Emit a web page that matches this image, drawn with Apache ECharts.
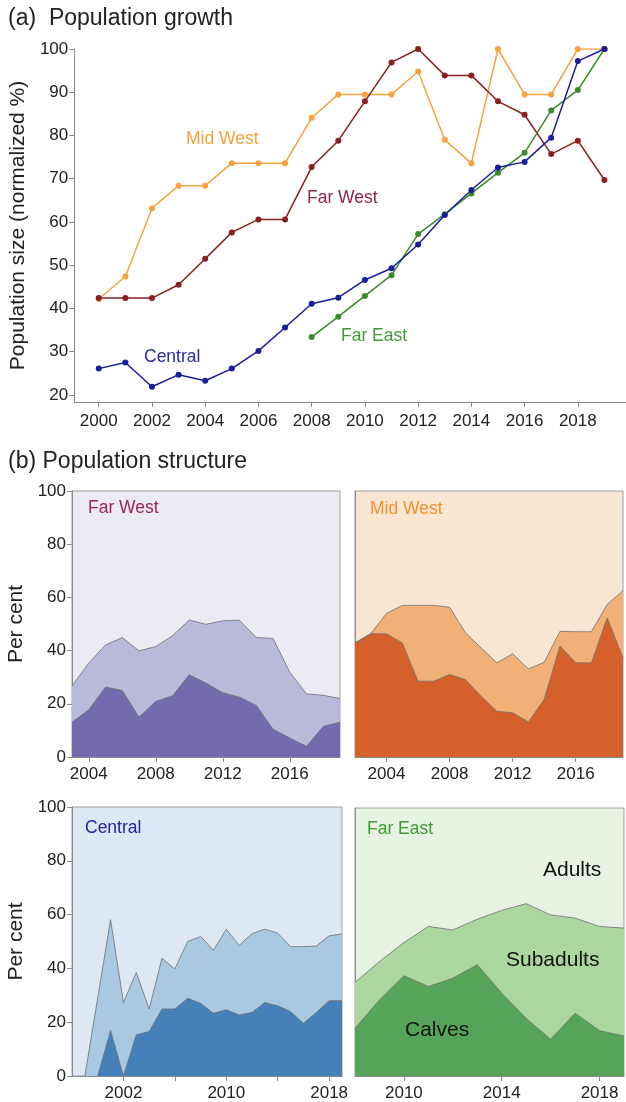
<!DOCTYPE html>
<html>
<head>
<meta charset="utf-8">
<script src="https://cdn.jsdelivr.net/npm/echarts@6/dist/echarts.min.js"></script>
<style>
html,body{margin:0;padding:0;background:#fff;}
#c{width:626px;height:1102px;}
</style>
</head>
<body>
<div id="c"></div>
<script>
// ---- (a) Population growth ----
const years = [2000,2001,2002,2003,2004,2005,2006,2007,2008,2009,2010,2011,2012,2013,2014,2015,2016,2017,2018,2019];
const midWest = [42.2,47.4,63.2,68.4,68.4,73.6,73.6,73.6,84.1,89.5,89.5,89.5,94.8,79.0,73.6,100,89.5,89.5,100,100];
const farWest = [42.4,42.4,42.4,45.5,51.5,57.6,60.6,60.6,72.7,78.8,87.9,96.9,100,93.9,93.9,87.9,84.8,75.7,78.8,69.7];
const central = [26.1,27.5,21.9,24.7,23.3,26.1,30.2,35.6,41.1,42.5,46.6,49.3,54.8,61.6,67.4,72.6,73.9,79.5,97.2,100];
const farEast = [null,null,null,null,null,null,null,null,33.4,38.1,42.9,47.7,57.2,61.8,66.6,71.4,76.0,85.8,90.5,100];
const topXTicks = [2000,2002,2004,2006,2008,2010,2012,2014,2016,2018];
const topYTicks = [20,30,40,50,60,70,80,90,100];

// ---- (b) Population structure (upper boundary = calves + subadults, lower = calves) ----
const fwYears = [2003,2004,2005,2006,2007,2008,2009,2010,2011,2012,2013,2014,2015,2016,2017,2018,2019];
const fwTotal = [26.7,35.3,42.1,44.9,39.9,41.5,45.6,51.5,49.9,51.2,51.4,44.9,44.6,31.9,23.7,23.2,22.0];
const fwCalves = [13.1,17.7,26.3,25.0,15.0,20.9,23.0,30.9,27.8,24.2,22.5,19.4,10.5,7.1,4.0,11.5,13.1];

const mwYears = [2002,2003,2004,2005,2006,2007,2008,2009,2010,2011,2012,2013,2014,2015,2016,2017,2018,2019];
const mwTotal = [42.9,46.3,54.0,57.0,57.0,57.0,56.3,46.7,41.0,35.4,38.8,33.1,35.6,47.2,47.1,47.1,57.4,62.5];
const mwCalves = [42.9,46.3,46.3,42.9,28.5,28.5,31.0,29.1,22.8,17.2,16.6,13.2,21.6,41.7,35.4,35.4,52.3,37.3];

const ctYears = [1999,2000,2001,2002,2003,2004,2005,2006,2007,2008,2009,2010,2011,2012,2013,2014,2015,2016,2017,2018,2019];
const ctTotal = [0,29,58.1,27.3,38.5,24.9,43.8,39.8,50,51.9,46.7,54.6,48.5,52.9,54.6,53.1,48.1,48.1,48.3,52.1,52.8];
const ctCalves = [null,0,16.9,0,15.3,16.5,24.9,24.9,28.9,27,23.3,24.6,22.7,23.6,27.3,26.1,23.9,19.6,23.6,28.0,28.0];

const feYears = [2008,2009,2010,2011,2012,2013,2014,2015,2016,2017,2018,2019];
const feTotal = [34.9,42.7,49.8,55.8,54.5,58.5,61.8,64.3,60.1,58.9,55.8,55.2];
const feCalves = [17.8,28.4,37.4,33.4,36.5,41.5,30.9,21.5,13.7,23.4,16.9,14.9];

const fwXTicks = [2004,2008,2012,2016];
const mwXTicks = [2004,2008,2012,2016];
const ctXLabels = [2002,2010,2018];
const ctXTicks = [2002,2006,2010,2014,2018];
const feXTicks = [2010,2014,2018];
const pctTicks = [0,20,40,60,80,100];

const FONT = 'Liberation Sans, Arial, Helvetica, sans-serif';
const TXT = '#222';
const AX = '#8a8a8a';

function pairs(xs, vs){ const o=[]; xs.forEach((x,i)=>{ if(vs[i]!==null && vs[i]!==undefined) o.push([x,vs[i]]); }); return o; }
const plain = v => String(Math.round(v));

const grids = [
  {left:72, top:49, width:554, height:353},
  {left:72, top:491, width:268, height:266, show:true, backgroundColor:'#ecebf3', borderColor:'#a0a0a0', borderWidth:1},
  {left:355, top:491, width:268, height:266, show:true, backgroundColor:'#f9e6d2', borderColor:'#a0a0a0', borderWidth:1},
  {left:72, top:807, width:270, height:269, show:true, backgroundColor:'#dde8f4', borderColor:'#a0a0a0', borderWidth:1},
  {left:355, top:808, width:269, height:268, show:true, backgroundColor:'#e6f2e2', borderColor:'#a0a0a0', borderWidth:1}
];

function xAx(gi, min, max, labels, ticks, margin){
  return {type:'value', gridIndex:gi, min:min, max:max,
    axisLine:{show:true, lineStyle:{color:AX, width:1}},
    axisTick:{show:true, length:5, lineStyle:{color:AX}, customValues:ticks||labels},
    axisLabel:{color:TXT, fontSize:17, fontFamily:FONT, margin:margin||9, customValues:labels, formatter:plain},
    splitLine:{show:false}};
}
function yAx(gi, min, max, labels, show, name, gap, nsize){
  return {type:'value', gridIndex:gi, min:min, max:max,
    name: name||'', nameLocation:'middle', nameGap:gap||40, nameRotate:90,
    nameTextStyle:{color:TXT, fontSize:nsize||21, fontFamily:FONT},
    axisLine:{show:true, lineStyle:{color:AX, width:1}},
    axisTick:{show:show, length:5, lineStyle:{color:AX}, customValues:labels},
    axisLabel:{show:show, color:TXT, fontSize:17, fontFamily:FONT, margin:6, customValues:labels, formatter:plain},
    splitLine:{show:false}};
}

const xAxes = [
  xAx(0, 1999.08, 2019.81, topXTicks, null, 11),
  xAx(1, 2003, 2019, fwXTicks),
  xAx(2, 2002, 2019, mwXTicks),
  xAx(3, 1998, 2019, ctXLabels, ctXTicks),
  xAx(4, 2008, 2019, feXTicks)
];
const yAxes = [
  yAx(0, 18.38, 100, topYTicks, true, 'Population size (normalized %)', 44, 21),
  yAx(1, 0, 100, pctTicks, true, 'Per cent', 45, 21),
  yAx(2, 0, 100, pctTicks, false),
  yAx(3, 0, 100, pctTicks, true, 'Per cent', 45, 21),
  yAx(4, 0, 100, pctTicks, false)
];

function lineSeries(name, vals, color){
  return {type:'line', name:name, xAxisIndex:0, yAxisIndex:0, data:pairs(years, vals),
    symbol:'circle', symbolSize:6, showSymbol:true,
    lineStyle:{color:color, width:1.5}, itemStyle:{color:color}, emphasis:{disabled:true}};
}
function areaSeries(gi, xs, vs, fill){
  return {type:'line', xAxisIndex:gi, yAxisIndex:gi, data:pairs(xs, vs), showSymbol:false, symbol:'none',
    lineStyle:{color:'#6e6e6e', width:0.8}, areaStyle:{color:fill, opacity:1}, emphasis:{disabled:true}};
}

const series = [
  lineSeries('Mid West', midWest, '#f7a23e'),
  lineSeries('Far West', farWest, '#8a1f1f'),
  lineSeries('Far East', farEast, '#3a8a2c'),
  lineSeries('Central', central, '#1c1c9e'),
  areaSeries(1, fwYears, fwTotal, '#b9bada'),
  areaSeries(1, fwYears, fwCalves, '#746aae'),
  areaSeries(2, mwYears, mwTotal, '#f0b077'),
  areaSeries(2, mwYears, mwCalves, '#d6602b'),
  areaSeries(3, ctYears, ctTotal, '#a8c9e1'),
  areaSeries(3, ctYears, ctCalves, '#4580b9'),
  areaSeries(4, feYears, feTotal, '#acd69f'),
  areaSeries(4, feYears, feCalves, '#56a35a')
];

function t(x, y, s, color, size){
  return {type:'text', x:x, y:y, style:{text:s, fill:color, font:size+'px '+FONT, textVerticalAlign:'middle'}, z:100};
}
const graphics = [
  t(8, 19, '(a)  Population growth', TXT, 23),
  t(8, 462, '(b) Population structure', TXT, 23),
  t(186, 139, 'Mid West', '#f5a23c', 17.5),
  t(307, 198, 'Far West', '#8e2452', 17.5),
  t(144, 357, 'Central', '#2b2ba8', 17.5),
  t(341, 336, 'Far East', '#3f9a35', 17.5),
  t(88, 508, 'Far West', '#9b2458', 17.5),
  t(370, 509, 'Mid West', '#f0922f', 17.5),
  t(85, 828, 'Central', '#24249c', 17.5),
  t(367, 829, 'Far East', '#3f9a35', 17.5),
  t(543, 870, 'Adults', '#111', 21),
  t(506, 960, 'Subadults', '#111', 21),
  t(405, 1030, 'Calves', '#111', 21)
];

const chart = echarts.init(document.getElementById('c'), null, {renderer:'canvas'});
chart.setOption({
  animation:false,
  backgroundColor:'#fff',
  grid:grids, xAxis:xAxes, yAxis:yAxes, series:series, graphic:graphics
});
</script>
</body>
</html>
